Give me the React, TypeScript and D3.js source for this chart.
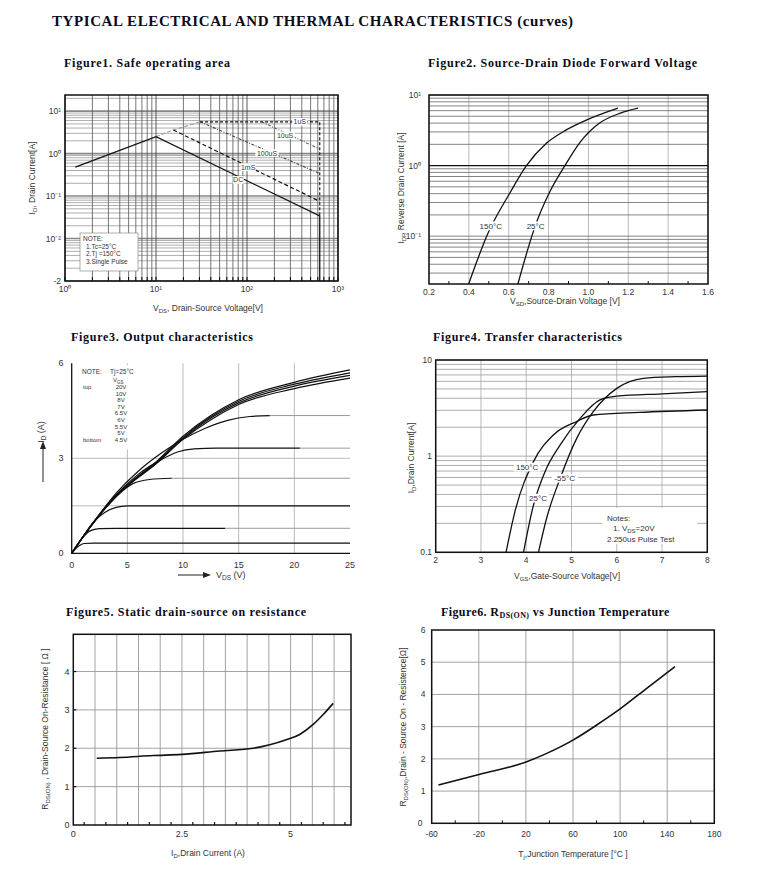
import React from "react";
import * as d3 from "d3";

// ---------------- DATA ----------------
// Figure 1: Safe operating area  (VDS [V], ID [A])
const soaDC = [[1.3, 0.48], [10, 2.5], [630, 0.034], [630, 0.001]];
const soaRise = [[10, 2.5], [15.5, 3.6], [30.5, 5.6]];
const soa1ms = [[15.5, 3.6], [630, 0.075]];
const soa100us = [[30.5, 5.6], [630, 0.34]];
const soa10us = [[145, 5.6], [620, 1.3]];
const soa1us = [[30.5, 5.6], [630, 5.6], [630, 0.034]];
const soaLabels: [string, number, number][] = [["1uS", 380, 5.6], ["10uS", 262, 2.7], ["100uS", 166, 1.03], ["1mS", 103, 0.48], ["DC", 80, 0.24]];
const soaXTicks = [1, 10, 100, 1000];
const soaXTickText = ["10⁰", "10¹", "10²", "10³"];
const soaYTicks = [10, 1, 0.1, 0.01, 0.001];
const soaYTickText = ["10¹", "10⁰", "10⁻¹", "10⁻²", "-2"];
const soaNote = ["NOTE:", "1.Tc=25°C", "2.Tj =150°C", "3.Single Pulse"];

// Figure 2: Source-drain diode forward voltage (VSD [V], IDR [A])
const vsd150 = [[0.399, 0.021], [0.496, 0.11], [0.605, 0.405], [0.688, 0.99], [0.789, 2.07], [0.889, 3.2], [0.989, 4.4], [1.148, 6.5]];
const vsd25 = [[0.646, 0.021], [0.738, 0.153], [0.805, 0.42], [0.881, 0.99], [0.956, 2.1], [1.056, 4.0], [1.157, 5.5], [1.249, 6.5]];
const vsdXTicks = [0.2, 0.4, 0.6, 0.8, 1.0, 1.2, 1.4, 1.6];
const vsdXTickText = ["0.2", "0.4", "0.6", "0.8", "1.0", "1.2", "1.4", "1.6"];
const vsdYTicks = [10, 1, 0.1];
const vsdYTickText = ["10¹", "10⁰", "10⁻¹"];
const vsdLabels: [string, number, number][] = [["150°C", 0.51, 0.14], ["25°C", 0.735, 0.14]];

// Figure 3: Output characteristics (VDS [V], ID [A])
const outCurves = [
  [[0, 0], [0.6, 0.22], [1.1, 0.31], [2, 0.32], [25, 0.32]],
  [[0, 0], [1, 0.5], [1.6, 0.7], [2.5, 0.78], [4, 0.79], [25, 0.79]],
  [[0, 0], [1, 0.52], [2, 1.0], [3, 1.3], [4, 1.45], [5, 1.5], [25, 1.5]],
  [[0, 0], [2, 1.0], [4, 1.8], [5.5, 2.2], [7, 2.33], [9, 2.37], [25, 2.37]],
  [[0, 0], [2, 1.0], [4, 1.85], [6, 2.5], [8, 2.95], [9.5, 3.2], [11, 3.3], [13, 3.32], [25, 3.32]],
  [[0, 0], [2, 1.0], [4, 1.9], [6, 2.6], [8, 3.15], [10, 3.6], [12, 3.95], [14, 4.2], [16, 4.32], [18, 4.35], [25, 4.35]],
  [[0, 0], [1.35, 0.68], [3, 1.42], [5, 2.12], [7.5, 2.8], [10, 3.6], [12.5, 4.22], [15, 4.7], [20, 5.2], [25, 5.53]],
  [[0, 0], [1.35, 0.68], [3, 1.42], [5, 2.13], [7.5, 2.82], [10, 3.63], [12.5, 4.27], [15, 4.75], [20, 5.28], [25, 5.62]],
  [[0, 0], [1.35, 0.68], [3, 1.42], [5, 2.14], [7.5, 2.84], [10, 3.66], [12.5, 4.31], [15, 4.8], [20, 5.34], [25, 5.7]],
  [[0, 0], [1.35, 0.68], [3, 1.42], [5, 2.15], [7.5, 2.86], [10, 3.7], [12.5, 4.35], [15, 4.85], [20, 5.4], [25, 5.79]],
];
const outSolidTo = [25, 13.8, 25, 9, 20.5, 17.8, 25, 25, 25, 25];
const outXTicks = [0, 5, 10, 15, 20, 25];
const outYTicks = [0, 3, 6];
const outVgs = ["20V", "10V", "8V", "7V", "6.5V", "6V", "5.5V", "5V", "4.5V"];

// Figure 4: Transfer characteristics (VGS [V], ID [A])
const tr150 = [[3.554, 0.1], [3.75, 0.265], [4.16, 0.877], [4.6, 1.66], [5.11, 2.29], [5.48, 2.68], [6.5, 2.85], [8, 3.02]];
const tr25 = [[3.94, 0.1], [4.16, 0.31], [4.415, 0.69], [4.75, 1.31], [5.19, 2.47], [5.63, 3.84], [6.0, 4.2], [7, 4.45], [8, 4.69]];
const trM55 = [[4.27, 0.1], [4.45, 0.226], [4.75, 0.589], [5.115, 1.53], [5.48, 2.9], [6.0, 5.07], [6.59, 6.45], [7.3, 6.7], [8, 6.8]];
const trXTicks = [2, 3, 4, 5, 6, 7, 8];
const trYTicks = [10, 1, 0.1];
const trYTickText = ["10", "1", "0.1"];
const trLabels: [string, number, number][] = [["150°C", 4.02, 0.77], ["-55°C", 4.85, 0.59], ["25°C", 4.26, 0.366]];
const trNotes = ["Notes:", "1. VDS=20V", "2.250us Pulse Test"];

// Figure 5: RDS(ON) vs drain current
const rdsId = [0.54, 1.07, 1.84, 2.5, 3.37, 4.14, 4.52, 4.9, 5.21, 5.52, 5.75, 5.98];
const rdsR = [1.74, 1.76, 1.81, 1.84, 1.93, 2.0, 2.09, 2.22, 2.36, 2.62, 2.88, 3.17];
const rdsXTicks = [0, 2.5, 5];
const rdsXTickText = ["0", "2.5", "5"];
const rdsYTicks = [0, 1, 2, 3, 4];

// Figure 6: RDS(ON) vs junction temperature
const tjT = [-54.3, -19, 20.7, 37.7, 60.3, 80.1, 100, 122.6, 146.6];
const tjR = [1.19, 1.52, 1.91, 2.17, 2.59, 3.05, 3.55, 4.19, 4.86];
const tjXTicks = [-60, -20, 20, 60, 100, 140, 180];
const tjYTicks = [0, 1, 2, 3, 4, 5, 6];

// ---------------- HELPERS ----------------
const SANS = "'Liberation Sans', Arial, sans-serif";
const SERIF = "'Liberation Serif', 'Times New Roman', serif";
const TXT = "#333";

function logValues(lo: number, hi: number) {
  const out: number[] = [];
  for (let e = Math.floor(Math.log10(lo)) - 1; e <= Math.ceil(Math.log10(hi)); e++) {
    for (let k = 1; k <= 9; k++) {
      const v = k * Math.pow(10, e);
      if (v >= lo * 0.9999 && v <= hi * 1.0001) out.push(v);
    }
  }
  return out;
}
const isDecade = (v: number) => Math.abs(Math.log10(v) - Math.round(Math.log10(v))) < 1e-6;

function LabelBox({ x, y, text, size }: { x: number; y: number; text: string; size: number }) {
  const w = text.length * size * 0.58 + 3;
  return (
    <g>
      <rect x={x - w / 2} y={y - size * 0.55} width={w} height={size * 1.1} fill="#fff" />
      <text x={x} y={y + size * 0.35} textAnchor="middle" fontSize={size} fontFamily={SANS} fill={TXT}>{text}</text>
    </g>
  );
}

// ---------------- FIGURE 1 ----------------
function Fig1() {
  const L = 65, R = 338, T = 95, B = 281;
  const x = d3.scaleLog().domain([1, 1000]).range([L, R]);
  const y = d3.scaleLog().domain([1e-3, Math.pow(10, 1.38)]).range([B, T]);
  const ln = d3.line<number[]>().x(d => x(d[0])).y(d => y(d[1]));
  const xs = logValues(1, 1000);
  const ys = logValues(1e-3, Math.pow(10, 1.38));
  return (
    <g>
      {ys.map((v, i) => (
        <line key={"h" + i} x1={L} x2={R} y1={y(v)} y2={y(v)} stroke={isDecade(v) ? "#888" : "#999"} strokeWidth={isDecade(v) ? 1.6 : 0.8} />
      ))}
      {xs.map((v, i) => (
        <line key={"v" + i} x1={x(v)} x2={x(v)} y1={T} y2={B} stroke={isDecade(v) ? "#333" : "#555"} strokeWidth={0.8} />
      ))}
      {xs.map((v, i) => (
        <line key={"t" + i} x1={x(v)} x2={x(v)} y1={B} y2={B - 4} stroke="#000" strokeWidth={1} />
      ))}
      <path d={ln(soaRise) || ""} fill="none" stroke="#999" strokeWidth={1.1} strokeDasharray="4,2" />
      <path d={ln(soa10us) || ""} fill="none" stroke="#666" strokeWidth={1.1} strokeDasharray="3,1.5,1,1.5" />
      <path d={ln(soa100us) || ""} fill="none" stroke="#444" strokeWidth={1.1} strokeDasharray="3,1.5,1,1.5" />
      <path d={ln(soa1ms) || ""} fill="none" stroke="#111" strokeWidth={1.2} strokeDasharray="4,2.5" />
      <path d={ln(soa1us) || ""} fill="none" stroke="#111" strokeWidth={1.1} strokeDasharray="3,2" />
      <path d={ln(soaDC) || ""} fill="none" stroke="#111" strokeWidth={1.3} />
      {soaLabels.map(([t, vx, vy]) => (
        <LabelBox key={t} x={x(vx)} y={y(vy)} text={t} size={7} />
      ))}
      <rect x={L} y={T} width={R - L} height={B - T} fill="none" stroke="#111" strokeWidth={1.5} />
      <rect x={80} y={233} width={58} height={38} fill="#fff" stroke="#777" strokeWidth={0.6} />
      {soaNote.map((t, i) => (
        <text key={t} x={i === 0 ? 83 : 86} y={241 + i * 7.6} fontSize={6.5} fontFamily={SANS} fill={TXT}>{t}</text>
      ))}
      {soaXTicks.map((v, i) => (
        <text key={"xl" + i} x={x(v)} y={292} textAnchor="middle" fontSize={8.5} fontFamily={SANS} fill={TXT}>{soaXTickText[i]}</text>
      ))}
      {soaYTicks.map((v, i) => (
        <text key={"yl" + i} x={61} y={y(v) + 3} textAnchor="end" fontSize={8.5} fontFamily={SANS} fill={TXT}>{soaYTickText[i]}</text>
      ))}
      <text transform="translate(35,178) rotate(-90)" textAnchor="middle" fontSize={8.5} fontFamily={SANS} fill={TXT}>
        I<tspan dy={2} fontSize={6}>D</tspan><tspan dy={-2}>, Drain Current[A]</tspan>
      </text>
      <text x={208} y={311} textAnchor="middle" fontSize={8.5} fontFamily={SANS} fill={TXT}>
        V<tspan dy={2} fontSize={6}>DS</tspan><tspan dy={-2}>, Drain-Source Voltage[V]</tspan>
      </text>
    </g>
  );
}

// ---------------- FIGURE 2 ----------------
function Fig2() {
  const L = 429, R = 708, T = 95, B = 284;
  const x = d3.scaleLinear().domain([0.2, 1.6]).range([L, R]);
  const y = d3.scaleLog().domain([0.021, 10]).range([B, T]);
  const ln = d3.line<number[]>().x(d => x(d[0])).y(d => y(d[1])).curve(d3.curveMonotoneX);
  const ys = logValues(0.021, 10);
  const minor = d3.range(0.3, 1.6, 0.2);
  return (
    <g>
      {vsdXTicks.map((v, i) => (
        <line key={"v" + i} x1={x(v)} x2={x(v)} y1={T} y2={B} stroke="#aaa" strokeWidth={0.8} />
      ))}
      {ys.map((v, i) => (
        <line key={"h" + i} x1={L} x2={R} y1={y(v)} y2={y(v)} stroke={v === 1 ? "#111" : "#666"} strokeWidth={v === 1 ? 1.3 : 0.8} />
      ))}
      {minor.map((v, i) => (
        <line key={"m" + i} x1={x(v)} x2={x(v)} y1={B} y2={B - 3} stroke="#111" strokeWidth={1} />
      ))}
      <path d={ln(vsd150) || ""} fill="none" stroke="#111" strokeWidth={1.3} />
      <path d={ln(vsd25) || ""} fill="none" stroke="#111" strokeWidth={1.3} />
      {vsdLabels.map(([t, vx, vy]) => (
        <LabelBox key={t} x={x(vx)} y={y(vy)} text={t} size={8} />
      ))}
      <rect x={L} y={T} width={R - L} height={B - T} fill="none" stroke="#111" strokeWidth={1.5} />
      {vsdXTicks.map((v, i) => (
        <text key={"xl" + i} x={x(v)} y={295} textAnchor="middle" fontSize={8.5} fontFamily={SANS} fill={TXT}>{vsdXTickText[i]}</text>
      ))}
      {vsdYTicks.map((v, i) => (
        <text key={"yl" + i} x={421} y={y(v) + 3} textAnchor="end" fontSize={8.5} fontFamily={SANS} fill={TXT}>{vsdYTickText[i]}</text>
      ))}
      <text transform="translate(404,188) rotate(-90)" textAnchor="middle" fontSize={8.5} fontFamily={SANS} fill={TXT}>
        I<tspan dy={2} fontSize={6}>DR</tspan><tspan dy={-2}> Reverse Drain Current  [A]</tspan>
      </text>
      <text x={565} y={304} textAnchor="middle" fontSize={8.5} fontFamily={SANS} fill={TXT}>
        V<tspan dy={2} fontSize={6}>SD</tspan><tspan dy={-2}>,Source-Drain Voltage  [V]</tspan>
      </text>
    </g>
  );
}

// ---------------- FIGURE 3 ----------------
function Fig3() {
  const L = 71.7, R = 350, T = 363.3, B = 553.3;
  const x = d3.scaleLinear().domain([0, 25]).range([L, R]);
  const y = d3.scaleLinear().domain([0, 6]).range([B, T]);
  const ln = d3.line<number[]>().x(d => x(d[0])).y(d => y(d[1])).curve(d3.curveMonotoneX);
  return (
    <g>
      {[5, 10, 15, 20].map(v => (
        <line key={"v" + v} x1={x(v)} x2={x(v)} y1={T} y2={B} stroke="#aaa" strokeWidth={0.8} />
      ))}
      {[1.5, 3].map(v => (
        <line key={"h" + v} x1={L} x2={R} y1={y(v)} y2={y(v)} stroke="#aaa" strokeWidth={0.8} />
      ))}
      {outCurves.map((c, i) => {
        const cut = outSolidTo[i];
        const solid = c.filter(p => p[0] <= cut);
        const last = solid[solid.length - 1];
        const yAt = last[0] < cut ? c[c.length - 1][1] : last[1];
        const solidPts = last[0] < cut ? [...solid, [cut, yAt]] : solid;
        const rest = cut < 25 ? [[cut, yAt], [25, c[c.length - 1][1]]] : null;
        return (
          <g key={"c" + i}>
            <path d={ln(solidPts) || ""} fill="none" stroke="#111" strokeWidth={1.2} />
            {rest && <path d={ln(rest) || ""} fill="none" stroke="#999" strokeWidth={1} />}
          </g>
        );
      })}
      <line x1={L} x2={L} y1={T} y2={B} stroke="#111" strokeWidth={1.3} />
      <line x1={L} x2={R} y1={B} y2={B} stroke="#111" strokeWidth={1.3} />
      <rect x={L + 2} y={T + 2} width={70} height={84} fill="#fff" />
      <text x={82} y={374} fontSize={6.5} fontFamily={SANS} fill={TXT}>NOTE:</text>
      <text x={110} y={374} fontSize={6.5} fontFamily={SANS} fill={TXT}>Tj=25°C</text>
      <text x={113} y={382} fontSize={6} fontFamily={SANS} fill={TXT}>V<tspan dy={1.5} fontSize={4.5}>GS</tspan></text>
      <text x={83} y={389} fontSize={6} fontFamily={SANS} fill={TXT}>top</text>
      <text x={83} y={442} fontSize={6} fontFamily={SANS} fill={TXT}>bottom</text>
      {outVgs.map((t, i) => (
        <text key={t} x={121} y={389 + i * 6.6} textAnchor="middle" fontSize={6} fontFamily={SANS} fill={TXT}>{t}</text>
      ))}
      {outXTicks.map(v => (
        <text key={"xl" + v} x={x(v)} y={568} textAnchor="middle" fontSize={9} fontFamily={SANS} fill={TXT}>{v}</text>
      ))}
      {outYTicks.map(v => (
        <text key={"yl" + v} x={61} y={y(v) + 3} textAnchor="middle" fontSize={9} fontFamily={SANS} fill={TXT}>{v}</text>
      ))}
      <text transform="translate(44,432) rotate(-90)" textAnchor="middle" fontSize={9} fontFamily={SANS} fill={TXT}>
        I<tspan dy={2} fontSize={6.5}>D</tspan><tspan dy={-2}> (A)</tspan>
      </text>
      <line x1={43} x2={43} y1={482} y2={448} stroke="#222" strokeWidth={1} />
      <path d="M43,441 L40,449 L46,449 Z" fill="#222" />
      <line x1={178} x2={204} y1={575} y2={575} stroke="#222" strokeWidth={1} />
      <path d="M211,575 L203,572 L203,578 Z" fill="#222" />
      <text x={216} y={578} fontSize={9} fontFamily={SANS} fill={TXT}>
        V<tspan dy={2} fontSize={6.5}>DS</tspan><tspan dy={-2}> (V)</tspan>
      </text>
    </g>
  );
}

// ---------------- FIGURE 4 ----------------
function Fig4() {
  const L = 435.7, R = 707.3, T = 360, B = 552.3;
  const x = d3.scaleLinear().domain([2, 8]).range([L, R]);
  const y = d3.scaleLog().domain([0.1, 10]).range([B, T]);
  const ln = d3.line<number[]>().x(d => x(d[0])).y(d => y(d[1])).curve(d3.curveMonotoneX);
  const ys = logValues(0.1, 10);
  return (
    <g>
      {trXTicks.map(v => (
        <line key={"v" + v} x1={x(v)} x2={x(v)} y1={T} y2={B} stroke="#aaa" strokeWidth={0.8} />
      ))}
      {ys.map((v, i) => (
        <line key={"h" + i} x1={L} x2={R} y1={y(v)} y2={y(v)} stroke="#999" strokeWidth={0.8} />
      ))}
      <path d={ln(tr150) || ""} fill="none" stroke="#111" strokeWidth={1.3} />
      <path d={ln(tr25) || ""} fill="none" stroke="#111" strokeWidth={1.3} />
      <path d={ln(trM55) || ""} fill="none" stroke="#111" strokeWidth={1.3} />
      {trLabels.map(([t, vx, vy]) => (
        <LabelBox key={t} x={x(vx)} y={y(vy)} text={t} size={8} />
      ))}
      <rect x={602} y={508} width={95} height={36} fill="#fff" />
      <text x={607} y={521} fontSize={8} fontFamily={SANS} fill={TXT}>{trNotes[0]}</text>
      <text x={613} y={531} fontSize={8} fontFamily={SANS} fill={TXT}>1. V<tspan dy={2} fontSize={6}>DS</tspan><tspan dy={-2}>=20V</tspan></text>
      <text x={607} y={542} fontSize={8} fontFamily={SANS} fill={TXT}>{trNotes[2]}</text>
      <rect x={L} y={T} width={R - L} height={B - T} fill="none" stroke="#111" strokeWidth={1.5} />
      {trXTicks.map(v => (
        <text key={"xl" + v} x={x(v)} y={563} textAnchor="middle" fontSize={8.5} fontFamily={SANS} fill={TXT}>{v}</text>
      ))}
      {trYTicks.map((v, i) => (
        <text key={"yl" + i} x={432} y={y(v) + 3} textAnchor="end" fontSize={8.5} fontFamily={SANS} fill={TXT}>{trYTickText[i]}</text>
      ))}
      <text transform="translate(414,458) rotate(-90)" textAnchor="middle" fontSize={8.5} fontFamily={SANS} fill={TXT}>
        I<tspan dy={2} fontSize={6}>D</tspan><tspan dy={-2}>,Drain Current[A]</tspan>
      </text>
      <text x={567} y={579} textAnchor="middle" fontSize={8.5} fontFamily={SANS} fill={TXT}>
        V<tspan dy={2} fontSize={6}>GS</tspan><tspan dy={-2}>,Gate-Source Voltage[V]</tspan>
      </text>
    </g>
  );
}

// ---------------- FIGURE 5 ----------------
function Fig5() {
  const L = 73.3, R = 351, T = 634.3, B = 825;
  const x = d3.scaleLinear().domain([0, 6.39]).range([L, R]);
  const y = d3.scaleLinear().domain([0, 4.97]).range([B, T]);
  const pts = rdsId.map((v, i) => [v, rdsR[i]]);
  const ln = d3.line<number[]>().x(d => x(d[0])).y(d => y(d[1])).curve(d3.curveMonotoneX);
  const vx = d3.range(0.5, 6.4, 0.5);
  const tx = d3.range(0.25, 6.4, 0.5);
  return (
    <g>
      {vx.map((v, i) => (
        <line key={"v" + i} x1={x(v)} x2={x(v)} y1={T} y2={B} stroke="#999" strokeWidth={0.9} />
      ))}
      {[1, 2, 3, 4].map(v => (
        <line key={"h" + v} x1={L} x2={R} y1={y(v)} y2={y(v)} stroke="#999" strokeWidth={0.9} />
      ))}
      {tx.map((v, i) => (
        <line key={"t" + i} x1={x(v)} x2={x(v)} y1={B} y2={B - 3} stroke="#111" strokeWidth={1.2} />
      ))}
      {[1, 2, 3, 4].map(v => (
        <line key={"yt" + v} x1={L} x2={L + 3} y1={y(v)} y2={y(v)} stroke="#111" strokeWidth={1.2} />
      ))}
      <path d={ln(pts) || ""} fill="none" stroke="#111" strokeWidth={1.6} />
      <rect x={L} y={T} width={R - L} height={B - T} fill="none" stroke="#111" strokeWidth={1.5} />
      {rdsXTicks.map((v, i) => (
        <text key={"xl" + i} x={x(v)} y={837} textAnchor="middle" fontSize={9} fontFamily={SANS} fill={TXT}>{rdsXTickText[i]}</text>
      ))}
      {rdsYTicks.map(v => (
        <text key={"yl" + v} x={67} y={y(v) + 3} textAnchor="middle" fontSize={9} fontFamily={SANS} fill={TXT}>{v}</text>
      ))}
      <text transform="translate(48,729) rotate(-90)" textAnchor="middle" fontSize={8.5} fontFamily={SANS} fill={TXT}>
        R<tspan dy={2} fontSize={6}>DS(ON)</tspan><tspan dy={-2}> , Drain-Source On-Resistance [ Ω ]</tspan>
      </text>
      <text x={208} y={856} textAnchor="middle" fontSize={8.5} fontFamily={SANS} fill={TXT}>
        I<tspan dy={2} fontSize={6}>D</tspan><tspan dy={-2}>,Drain Current (A)</tspan>
      </text>
    </g>
  );
}

// ---------------- FIGURE 6 ----------------
function Fig6() {
  const L = 431.7, R = 714.3, T = 630, B = 823.3;
  const x = d3.scaleLinear().domain([-60, 180]).range([L, R]);
  const y = d3.scaleLinear().domain([0, 6]).range([B, T]);
  const pts = tjT.map((v, i) => [v, tjR[i]]);
  const ln = d3.line<number[]>().x(d => x(d[0])).y(d => y(d[1])).curve(d3.curveMonotoneX);
  const mt = d3.range(-40, 180, 40);
  return (
    <g>
      {tjXTicks.slice(1, -1).map(v => (
        <line key={"v" + v} x1={x(v)} x2={x(v)} y1={T} y2={B} stroke="#999" strokeWidth={0.9} />
      ))}
      {[1, 2, 3, 4, 5].map(v => (
        <line key={"h" + v} x1={L} x2={R} y1={y(v)} y2={y(v)} stroke="#999" strokeWidth={0.9} />
      ))}
      {mt.map(v => (
        <line key={"t" + v} x1={x(v)} x2={x(v)} y1={B} y2={B - 3} stroke="#111" strokeWidth={1} />
      ))}
      <path d={ln(pts) || ""} fill="none" stroke="#111" strokeWidth={1.6} />
      <rect x={L} y={T} width={R - L} height={B - T} fill="none" stroke="#111" strokeWidth={1.5} />
      {tjXTicks.map(v => (
        <text key={"xl" + v} x={x(v)} y={837} textAnchor="middle" fontSize={8.5} fontFamily={SANS} fill={TXT}>{v}</text>
      ))}
      {tjYTicks.map(v => (
        <text key={"yl" + v} x={v === 0 ? 420 : 423} y={y(v) + 3} textAnchor="middle" fontSize={8.5} fontFamily={SANS} fill={TXT}>{v}</text>
      ))}
      <text transform="translate(406,727) rotate(-90)" textAnchor="middle" fontSize={8.5} fontFamily={SANS} fill={TXT}>
        R<tspan dy={2} fontSize={6}>DS(ON)</tspan><tspan dy={-2}>,Drain - Source On - Resistence[Ω]</tspan>
      </text>
      <text x={573} y={857} textAnchor="middle" fontSize={8.5} fontFamily={SANS} fill={TXT}>
        T<tspan dy={2} fontSize={6}>j</tspan><tspan dy={-2}>,Junction Temperature [°C ]</tspan>
      </text>
    </g>
  );
}

// ---------------- APP ----------------
export default function App() {
  const titleStyle = { fontFamily: SERIF, fontWeight: 700 as const, fill: "#0a0a1a" };
  return (
    <div style={{ position: "absolute", left: 0, top: 0, width: 782, height: 893, background: "#fff" }}>
      <svg width={782} height={893} style={{ display: "block" }}>
        <rect x={0} y={0} width={782} height={893} fill="#fff" />
        <text x={52} y={26} fontSize={15} textLength={521} lengthAdjust="spacing" style={titleStyle}>
          TYPICAL ELECTRICAL AND THERMAL CHARACTERISTICS (curves)
        </text>
        <text x={64} y={67} fontSize={12} textLength={166} lengthAdjust="spacing" style={titleStyle}>Figure1. Safe operating area</text>
        <text x={428} y={67} fontSize={12} textLength={269} lengthAdjust="spacing" style={titleStyle}>Figure2. Source-Drain Diode Forward Voltage</text>
        <text x={71} y={341} fontSize={12} textLength={182} lengthAdjust="spacing" style={titleStyle}>Figure3. Output characteristics</text>
        <text x={433} y={341} fontSize={12} textLength={189} lengthAdjust="spacing" style={titleStyle}>Figure4. Transfer characteristics</text>
        <text x={66} y={616} fontSize={12} textLength={240} lengthAdjust="spacing" style={titleStyle}>Figure5. Static drain-source on resistance</text>
        <text x={441} y={616} fontSize={12} letterSpacing={0.4} style={titleStyle}>
          Figure6. R<tspan dy={2} fontSize={8}>DS(ON)</tspan><tspan dy={-2}> vs Junction Temperature</tspan>
        </text>
        <Fig1 />
        <Fig2 />
        <Fig3 />
        <Fig4 />
        <Fig5 />
        <Fig6 />
      </svg>
    </div>
  );
}
